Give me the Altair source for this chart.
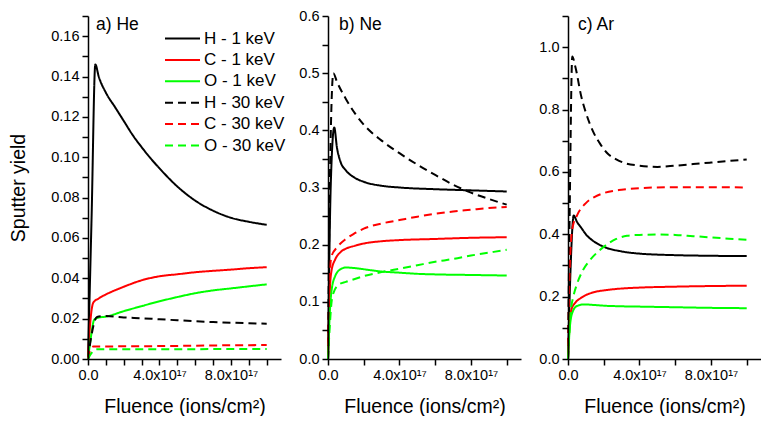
import altair as alt
import pandas as pd

FONT = "Liberation Sans"

series_names = ["H - 1 keV", "C - 1 keV", "O - 1 keV", "H - 30 keV", "C - 30 keV", "O - 30 keV"]
series_colors = ["#000000", "#ff0000", "#00ff00", "#000000", "#ff0000", "#00ff00"]
series_dashes = [[1, 0], [1, 0], [1, 0], [8, 5], [8, 5], [8, 5]]

# Fluence in units of 1e17 ions/cm^2
# ---- a) He ----
he_h1_x = [0, 0.2, 0.41, 0.6, 1.0, 1.5, 2, 2.5, 3, 3.5, 4, 5, 6, 7, 8, 9, 10]
he_h1_y = [0, 0.07, 0.146, 0.140, 0.132, 0.125, 0.118, 0.111, 0.105, 0.0995, 0.0945, 0.0855, 0.0785, 0.0735, 0.0700, 0.0680, 0.0665]
he_c1_x = [0, 0.1, 0.3, 0.6, 1, 1.5, 2, 3, 4, 5, 6, 7, 8, 9, 10]
he_c1_y = [0, 0.015, 0.028, 0.030, 0.032, 0.034, 0.0358, 0.039, 0.041, 0.042, 0.043, 0.0437, 0.0443, 0.045, 0.0455]
he_o1_x = [0, 0.15, 0.35, 0.6, 1, 2, 3, 4, 5, 6, 7, 8, 9, 10]
he_o1_y = [0, 0.01, 0.0195, 0.0205, 0.021, 0.0237, 0.0262, 0.0286, 0.0307, 0.0326, 0.034, 0.035, 0.036, 0.037]
he_h30_x = [0, 0.2, 0.5, 1, 2, 3, 4, 5, 6, 7, 8, 9, 10]
he_h30_y = [0, 0.012, 0.0208, 0.0213, 0.0206, 0.0202, 0.0197, 0.0192, 0.0187, 0.0183, 0.0180, 0.0177, 0.0175]
he_c30_x = [0, 0.15, 0.3, 1, 2, 4, 6, 8, 10]
he_c30_y = [0, 0.005, 0.0062, 0.0062, 0.0063, 0.0064, 0.0066, 0.0068, 0.0069]
he_o30_x = [0, 0.2, 0.5, 1, 4, 7, 10]
he_o30_y = [0, 0.003, 0.0048, 0.0048, 0.0048, 0.0049, 0.0049]

# ---- b) Ne ----
ne_h1_x = [0, 0.15, 0.35, 0.5, 0.7, 1, 1.5, 2, 3, 4, 6, 8, 10]
ne_h1_y = [0, 0.30, 0.405, 0.37, 0.345, 0.33, 0.317, 0.310, 0.303, 0.300, 0.297, 0.295, 0.293]
ne_c1_x = [0, 0.1, 0.2, 0.4, 0.7, 1, 1.5, 2, 3, 4, 6, 8, 10]
ne_c1_y = [0, 0.12, 0.155, 0.174, 0.187, 0.193, 0.198, 0.202, 0.206, 0.208, 0.210, 0.212, 0.213]
ne_o1_x = [0, 0.1, 0.2, 0.4, 0.7, 1, 1.5, 2, 3, 4, 5, 6, 8, 10]
ne_o1_y = [0, 0.08, 0.12, 0.145, 0.157, 0.160, 0.159, 0.157, 0.153, 0.151, 0.149, 0.148, 0.147, 0.146]
ne_h30_x = [0, 0.1, 0.3, 0.5, 1, 1.5, 2, 3, 4, 5, 6, 7, 8, 9, 10]
ne_h30_y = [0, 0.30, 0.50, 0.485, 0.455, 0.43, 0.41, 0.382, 0.360, 0.340, 0.322, 0.305, 0.291, 0.280, 0.270]
ne_c30_x = [0, 0.1, 0.2, 0.5, 1, 1.5, 2, 3, 4, 5, 6, 7, 8, 9, 10]
ne_c30_y = [0, 0.15, 0.18, 0.195, 0.21, 0.22, 0.228, 0.237, 0.243, 0.249, 0.254, 0.258, 0.261, 0.264, 0.266]
ne_o30_x = [0, 0.25, 0.6, 1, 1.5, 2, 3, 4, 5, 6, 7, 8, 9, 10]
ne_o30_y = [0, 0.11, 0.13, 0.135, 0.14, 0.145, 0.152, 0.158, 0.164, 0.170, 0.175, 0.181, 0.186, 0.191]

# ---- c) Ar ----
ar_h1_x = [0, 0.15, 0.32, 0.5, 0.75, 1, 1.5, 2, 3, 4, 6, 8, 10]
ar_h1_y = [0, 0.30, 0.46, 0.44, 0.42, 0.40, 0.375, 0.36, 0.345, 0.338, 0.333, 0.331, 0.330]
ar_c1_x = [0, 0.1, 0.2, 0.4, 0.7, 1, 1.5, 2, 3, 4, 6, 8, 10]
ar_c1_y = [0, 0.12, 0.16, 0.18, 0.195, 0.205, 0.215, 0.220, 0.226, 0.229, 0.232, 0.234, 0.235]
ar_o1_x = [0, 0.1, 0.25, 0.5, 0.9, 1.5, 2, 3, 4, 6, 8, 10]
ar_o1_y = [0, 0.10, 0.15, 0.17, 0.175, 0.173, 0.171, 0.169, 0.168, 0.166, 0.164, 0.163]
ar_h30_x = [0, 0.1, 0.24, 0.4, 0.75, 1, 1.4, 1.8, 2.2, 2.7, 3.2, 4, 5, 6, 7, 8, 9, 10]
ar_h30_y = [0, 0.50, 0.97, 0.94, 0.84, 0.79, 0.73, 0.69, 0.66, 0.64, 0.628, 0.620, 0.616, 0.620, 0.625, 0.630, 0.635, 0.640]
ar_c30_x = [0, 0.1, 0.25, 0.5, 1, 1.5, 2, 3, 4, 6, 8, 10]
ar_c30_y = [0, 0.30, 0.42, 0.46, 0.50, 0.52, 0.532, 0.543, 0.548, 0.551, 0.551, 0.550]
ar_o30_x = [0, 0.15, 0.3, 0.5, 0.85, 1.2, 1.8, 2.3, 2.7, 3.3, 4, 5, 6, 7, 8, 9, 10]
ar_o30_y = [0, 0.15, 0.20, 0.24, 0.286, 0.315, 0.35, 0.372, 0.385, 0.395, 0.398, 0.399, 0.398, 0.394, 0.390, 0.386, 0.382]


def build_df(pairs):
    rows = []
    for name, xs, ys in pairs:
        for xv, yv in zip(xs, ys):
            rows.append({"series": name, "x": xv, "y": yv})
    return pd.DataFrame(rows)


df_he = build_df([("H - 1 keV", he_h1_x, he_h1_y), ("C - 1 keV", he_c1_x, he_c1_y), ("O - 1 keV", he_o1_x, he_o1_y),
                  ("H - 30 keV", he_h30_x, he_h30_y), ("C - 30 keV", he_c30_x, he_c30_y), ("O - 30 keV", he_o30_x, he_o30_y)])
df_ne = build_df([("H - 1 keV", ne_h1_x, ne_h1_y), ("C - 1 keV", ne_c1_x, ne_c1_y), ("O - 1 keV", ne_o1_x, ne_o1_y),
                  ("H - 30 keV", ne_h30_x, ne_h30_y), ("C - 30 keV", ne_c30_x, ne_c30_y), ("O - 30 keV", ne_o30_x, ne_o30_y)])
df_ar = build_df([("H - 1 keV", ar_h1_x, ar_h1_y), ("C - 1 keV", ar_c1_x, ar_c1_y), ("O - 1 keV", ar_o1_x, ar_o1_y),
                  ("H - 30 keV", ar_h30_x, ar_h30_y), ("C - 30 keV", ar_c30_x, ar_c30_y), ("O - 30 keV", ar_o30_x, ar_o30_y)])

X_MAX = 10.8
PW, PH = 193, 343

AXIS_STYLE = dict(
    grid=False, domain=True, ticks=True, zindex=1,
    domainColor="black", domainWidth=1.5, tickColor="black", tickWidth=1.5,
    labelColor="black", titleColor="black", labelFont=FONT, titleFont=FONT,
    labelFontSize=14.5, titleFontSize=19.5, titleFontWeight="normal", labelPadding=3,
)

LEGEND = alt.Legend(orient="none", legendX=76, legendY=14, title=None, symbolType="stroke",
                    symbolSize=1225, symbolStrokeWidth=2, labelFontSize=17, labelFont=FONT,
                    labelColor="black", rowPadding=3.4, padding=0, labelOffset=3, labelLimit=0,
                    clipHeight=17)


def panel(df, label, label_dx, ydom, yvals, ytest, yfmt, xvals, show_legend, show_ytitle):
    x_axis = alt.Axis(
        values=xvals,
        labelExpr="datum.value == 0 ? '0.0' : (datum.value % 4 == 0 ? format(datum.value, '.1f') + 'x10\u00b9\u2077' : '')",
        tickSize=6,
        labelFlush=False,
        title="Fluence (ions/cm\u00b2)",
        titlePadding=16,
        **AXIS_STYLE,
    )
    y_axis = alt.Axis(
        values=yvals,
        labelExpr=f"{ytest} ? format(datum.value, '{yfmt}') : ''",
        tickSize=6,
        labelFlush=False,
        title="Sputter yield" if show_ytitle else "",
        titlePadding=22,
        **AXIS_STYLE,
    )
    if show_legend:
        color = alt.Color("series:N", scale=alt.Scale(domain=series_names, range=series_colors), legend=LEGEND)
        dash = alt.StrokeDash("series:N", scale=alt.Scale(domain=series_names, range=series_dashes), legend=LEGEND)
    else:
        color = alt.Color("series:N", scale=alt.Scale(domain=series_names, range=series_colors))
        dash = alt.StrokeDash("series:N", scale=alt.Scale(domain=series_names, range=series_dashes))
    lines = alt.Chart(df).mark_line(strokeWidth=2, interpolate="monotone").encode(
        x=alt.X("x:Q", scale=alt.Scale(domain=[0, X_MAX], nice=False, zero=False), axis=x_axis),
        y=alt.Y("y:Q", scale=alt.Scale(domain=ydom, nice=False, zero=False), axis=y_axis),
        color=color,
        strokeDash=dash,
    )
    txt = alt.Chart(pd.DataFrame({"t": [label]})).mark_text(
        align="left", baseline="middle", fontSize=17.5, font=FONT, color="black"
    ).encode(x=alt.value(label_dx), y=alt.value(9), text="t:N")
    return alt.layer(lines, txt).properties(width=PW, height=PH)


pa = panel(df_he, "a) He", 8, [0, 0.17], [round(i * 0.01, 2) for i in range(18)],
           "round(datum.value * 100) % 2 == 0", ".2f", list(range(0, 11)), True, True)
pb = panel(df_ne, "b) Ne", 11, [0, 0.6], [round(i * 0.05, 2) for i in range(13)],
           "round(datum.value * 20) % 2 == 0", ".1f", list(range(0, 11, 2)), False, False)
pc = panel(df_ar, "c) Ar", 10, [0, 1.1], [round(i * 0.1, 1) for i in range(12)],
           "round(datum.value * 10) % 2 == 0", ".1f", list(range(0, 11, 2)), False, False)

chart = alt.hconcat(pa, pb, pc, spacing=17).properties(
    padding={"left": 0, "top": 0, "right": 0, "bottom": 0}
).configure_view(stroke=None)

chart.save("out.html", embed_options={"renderer": "svg", "actions": False})
